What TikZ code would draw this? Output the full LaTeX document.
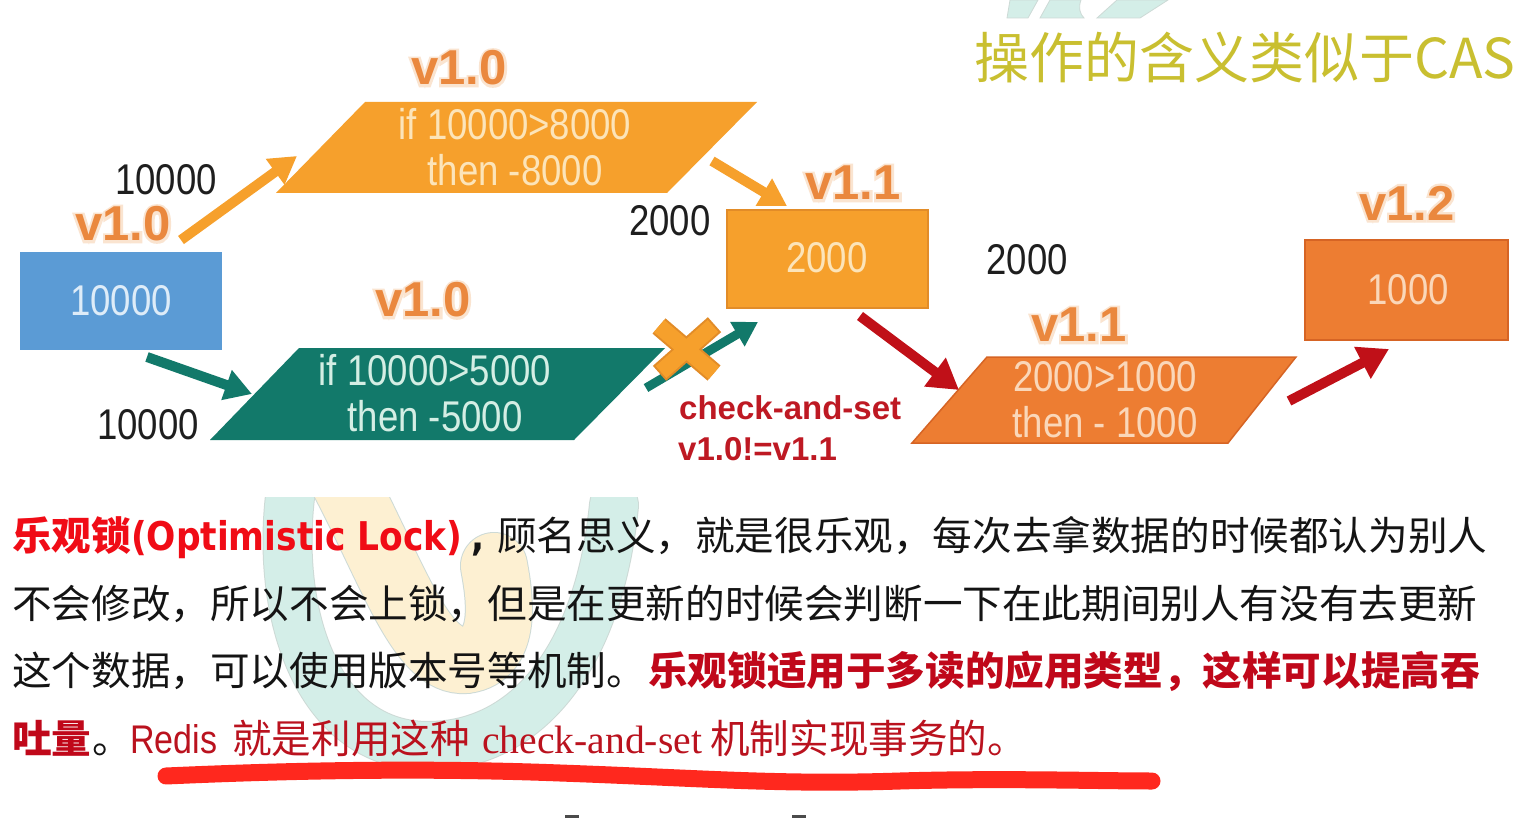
\documentclass[tikz,border=0pt]{standalone}
\usepackage{fontspec}
\usetikzlibrary{arrows.meta}
\newfontfamily\cjk{Noto Sans CJK SC}
\newfontfamily\optf{DejaVu Sans}[FakeStretch=0.87]
\newfontfamily\dgf{Liberation Sans}[FakeStretch=0.85]
\newfontfamily\lblf{Liberation Sans}
\newfontfamily\lblhalo{Liberation Sans}[UprightFont={* Bold}, FakeBold=10]
\newfontfamily\serf{Liberation Serif}
\newcommand\fsz[2]{\fontsize{#1}{#2}\selectfont}
% version tag: emboldened pale copy underneath, orange text on top
\newcommand\verlabel[3]{%
  \node[verhalo] (#1h) at (#2) {#3};
  \node[verlbl] (#1) at (#2) {#3};}

\definecolor{blueA}{RGB}{91,155,213}
\definecolor{orangeA}{RGB}{246,160,44}
\definecolor{orangeAedge}{RGB}{226,140,40}
\definecolor{orangeB}{RGB}{237,125,50}
\definecolor{orangeBedge}{RGB}{214,100,36}
\definecolor{tealA}{RGB}{18,121,106}
\definecolor{redarrow}{RGB}{192,16,24}
\definecolor{lblorange}{RGB}{234,136,62}
\definecolor{halo}{RGB}{250,228,208}
\definecolor{numdark}{RGB}{30,30,30}
\definecolor{creamA}{RGB}{252,228,185}
\definecolor{creamB}{RGB}{250,215,185}
\definecolor{paleblue}{RGB}{222,236,248}
\definecolor{paleteal}{RGB}{212,238,228}
\definecolor{checkred}{RGB}{190,25,35}
\definecolor{titleolive}{RGB}{201,191,48}
\definecolor{brightred}{RGB}{240,12,22}
\definecolor{darkred}{RGB}{192,8,26}
\definecolor{textred}{RGB}{186,18,30}
\definecolor{bodyblack}{RGB}{20,20,20}
\definecolor{penred}{RGB}{255,40,30}
\definecolor{wmyellow}{RGB}{253,240,210}
\definecolor{wmteal}{RGB}{212,238,232}
\definecolor{wmedge}{RGB}{205,218,214}

\begin{document}
\begin{tikzpicture}[x=1pt,y=-1pt,
  numlbl/.style={font=\dgf\fsz{43}{46}, text=numdark, inner sep=0},
  inshape/.style={font=\dgf\fsz{43}{46}, align=center, inner sep=0},
  verlbl/.style={font=\lblf\bfseries\fsz{49}{50}, text=lblorange, inner sep=0},
  verhalo/.style={font=\lblhalo\fsz{49}{50}, text=halo, inner sep=0},
  fatarrow/.style={line width=10pt, -{Triangle[length=27pt,width=30pt]}},
  txtline/.style={anchor=base west, inner sep=0, font=\cjk\fsz{39.6}{40}, text=bodyblack},
  checktxt/.style={anchor=west, inner sep=0, font=\lblf\bfseries\fsz{33}{33}, text=checkred},
]
\useasboundingbox (0,0) rectangle (1534,818);
\fill[white] (0,0) rectangle (1534,818);

% faint logo watermark behind the paragraph
\begin{scope}
  \clip (0,497) rectangle (1534,818);
  \draw[line width=50pt, wmedge, line cap=round]
    (294,470) .. controls (270,600) and (312,746) .. (428,746)
    .. controls (532,746) and (600,650) .. (614,505);
  \draw[line width=48pt, wmteal, line cap=round]
    (294,470) .. controls (270,600) and (312,746) .. (428,746)
    .. controls (532,746) and (600,650) .. (614,505);
  \draw[line width=68pt, wmedge, line cap=round]
    (338,470) .. controls (392,570) and (420,664) .. (466,660)
    .. controls (508,654) and (500,598) .. (494,566);
  \draw[line width=66pt, wmyellow, line cap=round]
    (338,470) .. controls (392,570) and (420,664) .. (466,660)
    .. controls (508,654) and (500,598) .. (494,566);
\end{scope}
% logo fragment at the top edge
\begin{scope}[fill=wmteal, draw=wmedge, line width=0.8pt]
  \filldraw (1010,0) -- (1038,0) -- (1028,18) -- (1007,18) -- cycle;
  \filldraw (1050,0) -- (1081,0) .. controls (1078,8) and (1080,14) .. (1084,18) -- (1040,18) -- cycle;
  \filldraw (1117,0) -- (1168,0) -- (1140,18) -- (1097,18) -- cycle;
\end{scope}

% title
\node[anchor=west, inner sep=0, font=\cjk\fsz{55}{55}, text=titleolive] (title) at (974,58) {操作的含义类似于CAS};

% value boxes
\fill[blueA] (20,252) rectangle (222,350);
\node[inshape, text=paleblue] (b0) at (121,301) {10000};
\filldraw[fill=orangeA, draw=orangeAedge, line width=2pt] (727,210) rectangle (928,308);
\node[inshape, text=creamA] (b1) at (827,258) {2000};
\filldraw[fill=orangeB, draw=orangeBedge, line width=2pt] (1305,240) rectangle (1508,340);
\node[inshape, text=creamB] (b2) at (1408,290) {1000};

% operation parallelograms
\fill[orangeA] (365,102) -- (757,102) -- (667,193) -- (276,193) -- cycle;
\node[inshape, text=creamA] (p1) at (515,147) {if 10000>8000\\then -8000};
\fill[tealA] (299,348) -- (665,348) -- (574,440) -- (210,440) -- cycle;
\node[inshape, text=paleteal] (p2) at (435,393) {if 10000>5000\\then -5000};
\filldraw[fill=orangeB, draw=orangeBedge, line width=1.5pt] (987,357) -- (1296,357) -- (1228,443) -- (912,443) -- cycle;
\node[inshape, text=creamB] (p3) at (1105,400) {2000>1000\\then - 1000};

% version tags
\verlabel{v0}{123,224}{v1.0}
\verlabel{v1}{459,68}{v1.0}
\verlabel{v2}{423,300}{v1.0}
\verlabel{v3}{853,183}{v1.1}
\verlabel{v4}{1079,325}{v1.1}
\verlabel{v5}{1407,203}{v1.2}

% values read by each transaction
\node[numlbl] (n1) at (166,180) {10000};
\node[numlbl] (n2) at (670,221) {2000};
\node[numlbl] (n3) at (1027,260) {2000};
\node[numlbl] (n4) at (148,425) {10000};

% arrow end points
\coordinate (a1s) at (181,240); \coordinate (a1e) at (297,156);
\coordinate (a2s) at (712,161); \coordinate (a2e) at (787,206);
\coordinate (a3s) at (147,357); \coordinate (a3e) at (252,394);
\coordinate (a4s) at (646,388); \coordinate (a4e) at (758,322);
\coordinate (a5s) at (860,316); \coordinate (a5e) at (959,390);
\coordinate (a6s) at (1289,401); \coordinate (a6e) at (1389,349);

\draw[fatarrow, orangeA] (a1s) -- (a1e);
\draw[fatarrow, orangeA] (a2s) -- (a2e);
\draw[fatarrow, tealA] (a3s) -- (a3e);
\draw[fatarrow, tealA, line width=9pt, -{Triangle[length=24pt,width=27pt]}] (a4s) -- (a4e);
\draw[fatarrow, redarrow, -{Triangle[length=30pt,width=34pt]}] (a5s) -- (a5e);
\draw[fatarrow, redarrow, -{Triangle[length=30pt,width=34pt]}] (a6s) -- (a6e);

% rejected write: cross over the teal arrow
\coordinate (x1a) at (659,326); \coordinate (x1b) at (714,373);
\coordinate (x2a) at (713,326); \coordinate (x2b) at (661,372);
\draw[line width=20pt, orangeAedge, shorten <=-2pt, shorten >=-2pt] (x1a) -- (x1b) (x2a) -- (x2b);
\draw[line width=16pt, orangeA] (x1a) -- (x1b) (x2a) -- (x2b);

\node[checktxt] (cas1) at (679,408) {check-and-set};
\node[checktxt] (cas2) at (678,449) {v1.0!=v1.1};

% explanatory paragraph
\node[txtline, text=brightred] (l1a) at (12,550) {\bfseries 乐观锁\optf\bfseries(Optimistic Lock)};
\node[txtline] (l1b) at (471,550) {\optf\bfseries,};
\node[txtline] (l1c) at (497,550) {顾名思义，就是很乐观，每次去拿数据的时候都认为别人};
\node[txtline] (l2) at (12,618) {不会修改，所以不会上锁，但是在更新的时候会判断一下在此期间别人有没有去更新};
\node[txtline] (l3a) at (12,685) {这个数据，可以使用版本号等机制。};
\node[txtline, text=darkred] (l3b) at (648,685) {\bfseries 乐观锁适用于多读的应用类型，这样可以提高吞};
\node[txtline, text=darkred] (l4a) at (12,753) {\bfseries 吐量};
\node[txtline] (l4b) at (92,753) {。};
\node[txtline, text=textred] (l4c) at (130,753) {\dgf\fsz{40}{40}Redis};
\node[txtline, text=textred] (l4d) at (232,753) {就是利用这种};
\node[txtline, text=textred] (l4e) at (482,753) {\serf check-and-set};
\node[txtline, text=textred] (l4f) at (710,753) {机制实现事务的。};

% hand-drawn underline
\draw[penred, line width=17pt, line cap=round]
  (166,776) .. controls (300,770) and (430,768) .. (560,773)
  .. controls (700,778) and (780,785) .. (900,781)
  .. controls (1000,778) and (1100,781) .. (1152,781);

% small marks at the lower edge
\fill[numdark!80] (565,815) rectangle (579,818);
\fill[numdark!80] (792,815) rectangle (806,818);
\end{tikzpicture}
\end{document}
